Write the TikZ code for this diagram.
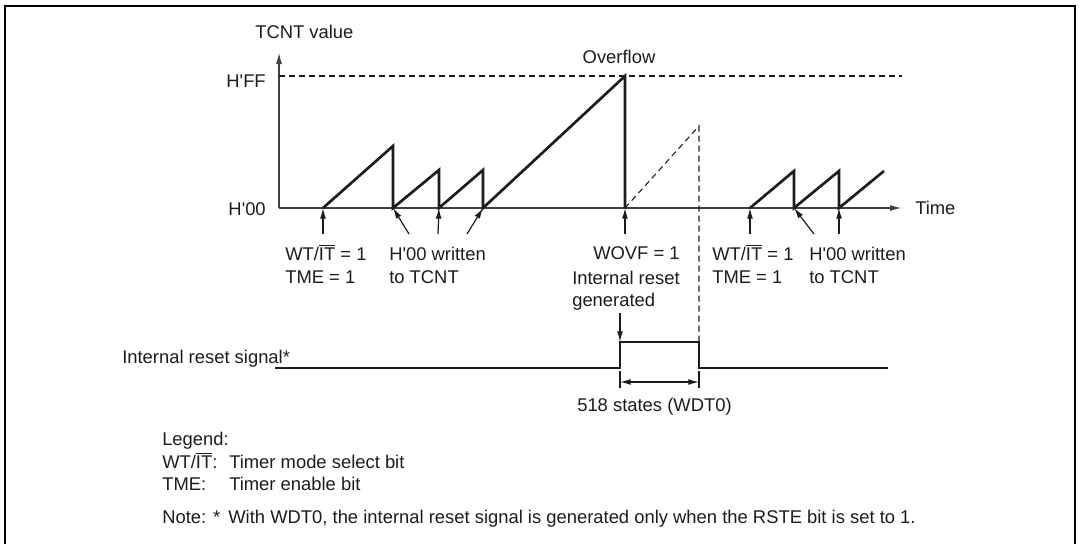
\documentclass[tikz,border=0pt]{standalone}
\usepackage{fontspec}
\setmainfont{Liberation Sans}
\usepackage{tikz}
\usetikzlibrary{arrows.meta}
\definecolor{wdtink}{HTML}{1C1C1C}
\definecolor{wdtaxis}{HTML}{404040}

\begin{document}
\begin{tikzpicture}[x=0.75pt,y=-0.75pt,
  lbl/.style={font=\fontsize{13.8}{16}\selectfont,text=wdtink,inner sep=0pt,anchor=base west},
  wave/.style={wdtink,line width=2pt,line join=miter},
  axisline/.style={wdtaxis,line width=1.3pt},
  guide/.style={wdtink,line width=0.8pt,dash pattern=on 4.5pt off 3pt},
  tick/.style={wdtink,line width=0.9pt,-{Latex[length=8pt,width=4.4pt]}}]
  \useasboundingbox (0,0) rectangle (1079,544);
  \draw[black,line width=1.6pt] (5,544) -- (5,6) -- (1075,6) -- (1075,544);

  \coordinate (org) at (279,208);
  \coordinate (ytop) at (279,52);
  \coordinate (xend) at (902,208);
  \draw[axisline,-{Latex[length=9pt,width=4.6pt]}] (org) -- (ytop);
  \draw[axisline,-{Latex[length=9pt,width=4.6pt]}] (org) -- (xend);
  \draw[guide] (279,76) -- (902,76);

  \node[lbl] (tcnt) at (255,38) {TCNT value};
  \node[lbl,anchor=base east] (hff) at (266,87) {H\textquotesingle FF};
  \node[lbl,anchor=base east] (hzero) at (266,215) {H\textquotesingle 00};
  \node[lbl] (time) at (915,214) {Time};
  \node[lbl,anchor=base] (ovf) at (619,63) {Overflow};

  \coordinate (st1) at (323,208);
  \coordinate (wr1) at (393,208);
  \coordinate (wr2) at (439,208);
  \coordinate (wr3) at (483,208);
  \coordinate (ovfp) at (625,208);
  \coordinate (st2) at (750,208);
  \coordinate (wr4) at (794,208);
  \coordinate (wr5) at (839,208);
  \coordinate (prise) at (620,342);
  \coordinate (pfall) at (699,342);

  \draw[wave] (st1) -- (393,146) -- (wr1) -- (439,170) -- (wr2) -- (483,170)
    -- (wr3) -- (625,76) -- (ovfp);
  \draw[wave] (st2) -- (794,171) -- (wr4) -- (839,171) -- (wr5) -- (884,171);
  \draw[guide] (ovfp) -- (699,126) -- (pfall);

  \coordinate (t1) at (323,234);
  \coordinate (t2) at (409,234);
  \coordinate (t3) at (438,234);
  \coordinate (t4) at (467,234);
  \coordinate (t5) at (625,234);
  \coordinate (t6) at (750,234);
  \coordinate (t7) at (814,234);
  \coordinate (t8) at (839,234);
  \foreach \a/\b in {t1/st1,t2/wr1,t3/wr2,t4/wr3,t5/ovfp,t6/st2,t7/wr4,t8/wr5}
    \draw[tick] (\a) -- (\b);

  \node[lbl] (wtit1) at (285,260) {WT/$\overline{\mbox{IT}}$ = 1};
  \node[lbl] (tme1) at (285,283) {TME = 1};
  \node[lbl] (wrt1) at (389,260) {H\textquotesingle 00 written};
  \node[lbl] (tcn1) at (389,283) {to TCNT};
  \node[lbl] (wovf) at (593,259) {WOVF = 1};
  \node[lbl] (irst) at (572,284) {Internal reset};
  \node[lbl] (igen) at (572,306) {generated};
  \node[lbl] (wtit2) at (712,260) {WT/$\overline{\mbox{IT}}$ = 1};
  \node[lbl] (tme2) at (712,283) {TME = 1};
  \node[lbl] (wrt2) at (809,260) {H\textquotesingle 00 written};
  \node[lbl] (tcn2) at (809,283) {to TCNT};

  \coordinate (gtail) at (620,313);
  \draw[tick] (gtail) -- (prise);
  \node[lbl] (rsig) at (122,363) {Internal reset signal*};
  \draw[wave] (275,368) -- (620,368) -- (prise) -- (pfall) -- (699,368) -- (888,368);
  \draw[wdtink,line width=0.9pt] (620,371) -- (620,388);
  \draw[wdtink,line width=0.9pt] (699,371) -- (699,388);
  \coordinate (wl) at (620,382);
  \coordinate (wr) at (699,382);
  \draw[tick,{Latex[length=8pt,width=4.4pt]}-{Latex[length=8pt,width=4.4pt]}] (wl) -- (wr);
  \node[lbl] (width) at (577,411) {518 states (WDT0)};

  \node[lbl] (legend) at (162,445) {Legend:};
  \node[lbl] (keya) at (162,468) {WT/$\overline{\mbox{IT}}$:};
  \node[lbl] (desca) at (229,468) {Timer mode select bit};
  \node[lbl] (keyb) at (162,490) {TME:};
  \node[lbl] (descb) at (229,490) {Timer enable bit};
  \node[lbl] (note) at (162,523) {Note: * \,With WDT0, the internal reset signal is generated only when the RSTE bit is set to 1.};
\end{tikzpicture}
\end{document}
